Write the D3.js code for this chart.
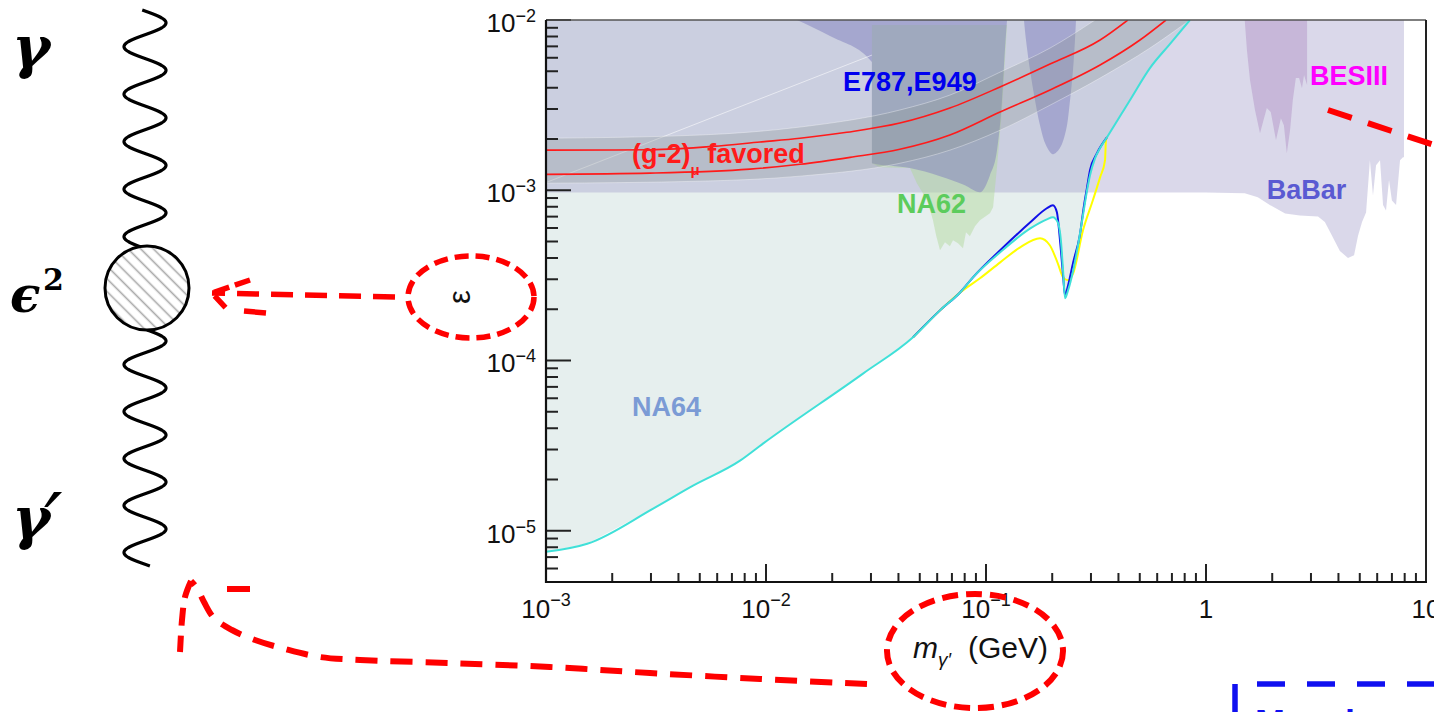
<!DOCTYPE html>
<html>
<head>
<meta charset="utf-8">
<script src="https://cdn.jsdelivr.net/npm/d3@7"></script>
<style>
  html, body { margin: 0; padding: 0; background: #fff; overflow: hidden; }
  svg { display: block; font-family: "Liberation Sans", Arial, sans-serif; }
</style>
</head>
<body>
<svg id="chart" width="1434" height="712"></svg>
<script>
// ---- data (mass in GeV, epsilon) ----
const na64Limit = [[0.001,7.52e-6],[0.00154,8.38e-6],[0.00307,1.35e-5],[0.00466,1.84e-5],[0.00762,2.58e-5],[0.00969,3.25e-5],[0.0276,8.38e-5],[0.0466,1.37e-4],[0.0618,1.97e-4],[0.0762,2.51e-4],[0.0873,3.08e-4],[0.116,4.32e-4],[0.159,5.97e-4],[0.189,6.75e-4],[0.2015,6.94e-4],[0.212,6.48e-4],[0.219,5.08e-4],[0.224,3.38e-4],[0.2287,2.32e-4],[0.236,2.58e-4],[0.249,3.38e-4],[0.262,4.75e-4],[0.276,7.13e-4],[0.288,1.0e-3],[0.297,1.225e-3],[0.313,1.54e-3],[0.330,1.77e-3],[0.355,2.05e-3],[0.451,3.38e-3],[0.556,5.22e-3],[0.685,7.22e-3],[0.845,1.0e-2]];
const na64Blue = [[0.0466,1.37e-4],[0.0618,1.97e-4],[0.0762,2.51e-4],[0.0873,3.08e-4],[0.116,4.44e-4],[0.159,6.48e-4],[0.189,7.84e-4],[0.2015,8.16e-4],[0.210,7.43e-4],[0.217,5.08e-4],[0.224,3.16e-4],[0.2287,2.41e-4],[0.236,2.76e-4],[0.249,3.77e-4],[0.267,5.44e-4],[0.279,8.16e-4],[0.288,1.04e-3],[0.297,1.31e-3],[0.3195,1.65e-3],[0.355,2.05e-3]];
const na64Yellow = [[0.0466,1.37e-4],[0.0618,1.97e-4],[0.0762,2.51e-4],[0.0939,3.04e-4],[0.116,3.77e-4],[0.143,4.62e-4],[0.176,5.22e-4],[0.195,4.75e-4],[0.212,3.72e-4],[0.224,3.08e-4],[0.236,2.96e-4],[0.249,3.25e-4],[0.276,5.82e-4],[0.306,8.73e-4],[0.330,1.19e-3],[0.3475,1.5e-3],[0.351,1.97e-3],[0.355,2.05e-3]];

const babarLower = [[0.001,9.7e-4],[0.1,9.7e-4],[1.0,9.7e-4],[1.5,9.6e-4],[1.72,9.1e-4],[1.95,8.2e-4],[2.29,7.3e-4],[2.67,7.1e-4],[3.23,7.0e-4],[3.47,6.5e-4],[3.74,5.4e-4],[4.06,4.4e-4],[4.42,4.0e-4],[4.71,4.15e-4],[4.91,5.4e-4],[5.12,6.5e-4],[5.34,7.4e-4],[5.56,1.5e-3],[5.74,9.3e-4],[5.93,1.4e-3],[6.18,1.5e-3],[6.38,8.2e-4],[6.58,7.6e-4],[6.79,1.15e-3],[7.0,8.7e-4],[7.31,8.2e-4],[7.62,1.5e-3],[7.86,1.56e-3],[7.94,1.56e-3]];
const e787Main = [[0.01384,1e-2],[0.01954,8.05e-3],[0.0303,5.66e-3],[0.0303,1.44e-3],[0.0451,1.35e-3],[0.0618,1.21e-3],[0.0802,1.07e-3],[0.0939,9.73e-4],[0.1042,1.225e-3],[0.1122,1.72e-3],[0.1182,3.38e-3],[0.1219,6.66e-3],[0.1246,1e-2]];
const e787Lobe = [[0.1488,1e-2],[0.152,7.63e-3],[0.1585,5.08e-3],[0.167,3.38e-3],[0.176,2.41e-3],[0.1874,1.84e-3],[0.2015,1.63e-3],[0.2168,1.77e-3],[0.231,2.25e-3],[0.241,3.38e-3],[0.2486,5.08e-3],[0.2538,7.63e-3],[0.2565,1e-2]];
const na62Region = [[0.0303,9.34e-3],[0.1246,9.34e-3],[0.1219,5.82e-3],[0.1182,2.96e-3],[0.1122,1.365e-3],[0.1077,7.94e-4],[0.1042,7.32e-4],[0.0939,6.66e-4],[0.0891,6.14e-4],[0.0845,5.36e-4],[0.0811,5.66e-4],[0.0786,4.56e-4],[0.0746,4.88e-4],[0.0708,5.08e-4],[0.0685,4.69e-4],[0.0651,4.95e-4],[0.0618,4.44e-4],[0.0593,5.44e-4],[0.0574,6.66e-4],[0.054,8.73e-4],[0.0485,1.10e-3],[0.0451,1.35e-3],[0.033,1.365e-3],[0.0303,1.44e-3]];
const besiiiRegion = [[1.50,1e-2],[1.535,6.66e-3],[1.585,4.44e-3],[1.67,2.96e-3],[1.76,2.16e-3],[1.835,2.65e-3],[1.89,3.04e-3],[1.97,2.88e-3],[2.08,1.97e-3],[2.19,2.65e-3],[2.26,2.41e-3],[2.33,1.65e-3],[2.41,2.25e-3],[2.48,3.38e-3],[2.56,4.56e-3],[2.65,4.56e-3],[2.73,3.98e-3],[2.79,4.75e-3],[2.88,4.15e-3],[2.88,1e-2]];

const g2Upper = [[0.001,1.72e-3],[0.00297,1.73e-3],[0.00574,1.81e-3],[0.00939,1.92e-3],[0.01427,2.02e-3],[0.0233,2.19e-3],[0.0406,2.48e-3],[0.0685,3.04e-3],[0.1158,4.04e-3],[0.1954,5.51e-3],[0.330,7.63e-3],[0.4415,1.0e-2]];
const g2Lower = [[0.001,1.24e-3],[0.00297,1.26e-3],[0.00845,1.33e-3],[0.01427,1.42e-3],[0.0241,1.56e-3],[0.0406,1.74e-3],[0.0685,2.11e-3],[0.1158,2.88e-3],[0.1954,3.88e-3],[0.330,5.44e-3],[0.501,7.63e-3],[0.658,1.0e-2]];
const g2BandHi = [[0.001,2.02e-3],[0.00501,2.11e-3],[0.01427,2.35e-3],[0.0406,2.96e-3],[0.0685,3.62e-3],[0.1158,4.94e-3],[0.1954,6.84e-3],[0.313,1.0e-2]];
const g2BandLo = [[0.001,1.10e-3],[0.00501,1.13e-3],[0.01427,1.21e-3],[0.0406,1.44e-3],[0.0685,1.72e-3],[0.1158,2.25e-3],[0.1954,3.16e-3],[0.330,4.56e-3],[0.556,6.84e-3],[0.845,1.0e-2]];
const faintEdge = [[0.001,1.11e-3],[0.0303,6.22e-3]];

const yTickLabels = [
  {value: 1e-2, base: "10", exp: "\u22122"},
  {value: 1e-3, base: "10", exp: "\u22123"},
  {value: 1e-4, base: "10", exp: "\u22124"},
  {value: 1e-5, base: "10", exp: "\u22125"}
];
const xTickLabels = [
  {value: 1e-3, base: "10", exp: "\u22123"},
  {value: 1e-2, base: "10", exp: "\u22122"},
  {value: 1e-1, base: "10", exp: "\u22121"},
  {value: 1, base: "1", exp: ""},
  {value: 10, base: "10", exp: ""}
];

// ---- setup ----
const svg = d3.select("#chart");
const plot = {left: 546, right: 1426, top: 20, bottom: 582};

const x = d3.scaleLog().domain([1e-3, 10]).range([plot.left, plot.right]);
const y = d3.scaleLog().domain([5e-6, 1e-2]).range([plot.bottom, plot.top]);

const line = d3.line().x(d => x(d[0])).y(d => y(d[1]));
const smooth = d3.line().x(d => x(d[0])).y(d => y(d[1])).curve(d3.curveMonotoneX);
const roundish = d3.line().x(d => x(d[0])).y(d => y(d[1])).curve(d3.curveCatmullRom);

const defs = svg.append("defs");
defs.append("clipPath").attr("id", "plotClip")
  .append("rect")
  .attr("x", plot.left).attr("y", plot.top)
  .attr("width", plot.right - plot.left).attr("height", plot.bottom - plot.top);

const hatch = defs.append("pattern")
  .attr("id", "hatch")
  .attr("patternUnits", "userSpaceOnUse")
  .attr("width", 9).attr("height", 9)
  .attr("patternTransform", "rotate(-45)");
hatch.append("rect").attr("width", 9).attr("height", 9).attr("fill", "#fff");
hatch.append("line")
  .attr("x1", 4.5).attr("y1", 0).attr("x2", 4.5).attr("y2", 9)
  .attr("stroke", "#a8a8a8").attr("stroke-width", 1.6);

// ---- regions ----
const regions = svg.append("g").attr("clip-path", "url(#plotClip)");

// NA64 excluded area (above the limit curve)
regions.append("path")
  .attr("d", line(na64Limit.concat([[1e-3, 1e-2]])) + "Z")
  .attr("fill", "#e6efee");

// BaBar
regions.append("path")
  .attr("d", line([[1e-3, 1e-2]].concat(babarLower, [[7.94, 1e-2]])) + "Z")
  .attr("fill", "rgba(167,162,205,0.42)");

// NA62
regions.append("path")
  .attr("d", line(na62Region) + "Z")
  .attr("fill", "rgba(175,215,150,0.45)");

// E787, E949
regions.append("path")
  .attr("d", smooth(e787Main) + "Z")
  .attr("fill", "rgba(128,128,190,0.5)");
regions.append("path")
  .attr("d", roundish(e787Lobe) + "Z")
  .attr("fill", "rgba(128,128,190,0.5)");

// BESIII
regions.append("path")
  .attr("d", line(besiiiRegion) + "Z")
  .attr("fill", "rgba(180,150,200,0.5)");

// faint edge line
regions.append("path")
  .attr("d", line(faintEdge))
  .attr("fill", "none")
  .attr("stroke", "rgba(255,255,255,0.55)")
  .attr("stroke-width", 1);

// g-2 band
regions.append("path")
  .attr("d", smooth(g2BandHi) + "L" + smooth(g2BandLo.slice().reverse()).slice(1) + "Z")
  .attr("fill", "rgba(140,150,150,0.3)");
[g2BandHi, g2BandLo].forEach(b => {
  regions.append("path")
    .attr("d", smooth(b))
    .attr("fill", "none")
    .attr("stroke", "rgba(255,255,255,0.35)")
    .attr("stroke-width", 1);
});
[g2Upper, g2Lower].forEach(b => {
  regions.append("path")
    .attr("d", smooth(b))
    .attr("fill", "none")
    .attr("stroke", "#ff1a1a")
    .attr("stroke-width", 1.6);
});

// limit curves (cyan drawn last so it shows where they coincide)
regions.append("path")
  .attr("d", smooth(na64Yellow))
  .attr("fill", "none").attr("stroke", "#ffff00").attr("stroke-width", 2);
regions.append("path")
  .attr("d", smooth(na64Blue))
  .attr("fill", "none").attr("stroke", "#1010e8").attr("stroke-width", 2);
regions.append("path")
  .attr("d", smooth(na64Limit))
  .attr("fill", "none").attr("stroke", "#40e0d8").attr("stroke-width", 2);

// ---- region labels ----
function label(txt, m, e, color) {
  return svg.append("text")
    .attr("x", x(m)).attr("y", y(e))
    .attr("font-size", 27).attr("font-weight", "bold")
    .attr("fill", color)
    .text(txt);
}
label("E787,E949", 0.0224, 3.82e-3, "#0000ee");
label("NA62", 0.0394, 7.32e-4, "#5ccc5c");
label("BaBar", 1.89, 8.85e-4, "#5a5ad2");
label("BESIII", 2.97, 4.15e-3, "#ff00ff");
label("NA64", 2.46e-3, 4.75e-5, "#7b9bd5");

const g2Label = svg.append("text")
  .attr("x", x(2.46e-3)).attr("y", y(1.44e-3))
  .attr("font-size", 27).attr("font-weight", "bold").attr("fill", "#ff1a1a");
g2Label.append("tspan").text("(g-2)");
g2Label.append("tspan").attr("font-size", 15).attr("dy", 12).text("\u03bc");
g2Label.append("tspan").attr("dy", -12).text(" favored");

// ---- axes ----
const axes = svg.append("g").attr("stroke", "#222").attr("stroke-width", 2);
const isMajor = v => Math.abs(Math.log10(v) - Math.round(Math.log10(v))) < 1e-6;

y.ticks().forEach(v => {
  axes.append("line")
    .attr("x1", plot.left).attr("x2", plot.left + (isMajor(v) ? 25 : 12))
    .attr("y1", y(v)).attr("y2", y(v));
});
x.ticks().forEach(v => {
  axes.append("line")
    .attr("x1", x(v)).attr("x2", x(v))
    .attr("y1", plot.bottom).attr("y2", plot.bottom - (isMajor(v) ? 18 : 9));
});

// frame
svg.append("line").attr("x1", plot.left).attr("x2", plot.right).attr("y1", plot.top).attr("y2", plot.top)
  .attr("stroke", "#555").attr("stroke-width", 1.5);
svg.append("line").attr("x1", plot.right).attr("x2", plot.right).attr("y1", plot.top).attr("y2", plot.bottom)
  .attr("stroke", "#222").attr("stroke-width", 2);
svg.append("line").attr("x1", plot.left).attr("x2", plot.left).attr("y1", plot.top).attr("y2", plot.bottom + 1)
  .attr("stroke", "#111").attr("stroke-width", 2.2);
svg.append("line").attr("x1", plot.left - 1).attr("x2", plot.right + 1).attr("y1", plot.bottom).attr("y2", plot.bottom)
  .attr("stroke", "#111").attr("stroke-width", 2.2);

// tick labels
yTickLabels.forEach(t => {
  const tx = svg.append("text")
    .attr("x", 536).attr("y", y(t.value) + 12)
    .attr("text-anchor", "end")
    .attr("font-size", 26).attr("fill", "#111");
  tx.append("tspan").text(t.base);
  tx.append("tspan").attr("font-size", 18).attr("dy", -10).text(t.exp);
});
xTickLabels.forEach(t => {
  const tx = svg.append("text")
    .attr("x", x(t.value)).attr("y", 618)
    .attr("text-anchor", "middle")
    .attr("font-size", 26).attr("fill", "#111");
  tx.append("tspan").text(t.base);
  if (t.exp) tx.append("tspan").attr("font-size", 18).attr("dy", -12).text(t.exp);
});

// axis titles
const xTitle = svg.append("text").attr("x", 913).attr("y", 658).attr("font-size", 30).attr("fill", "#111");
xTitle.append("tspan").attr("font-style", "italic").text("m");
xTitle.append("tspan").attr("font-style", "italic").attr("font-size", 19).attr("dy", 8).text("\u03b3\u2032");
xTitle.append("tspan").attr("x", 968).attr("dy", -8).text("(GeV)");

svg.append("text")
  .attr("transform", "translate(462,297) rotate(-90)")
  .attr("text-anchor", "middle").attr("dy", "0.27em")
  .attr("font-size", 31).attr("fill", "#111")
  .text("\u03b5");

// ---- Feynman diagram ----
const feyn = svg.append("g");
const wave = d3.line();
const topWave = d3.range(10, 247.5, 0.5).map(t => [145 + 21 * Math.sin(2 * Math.PI * (t - 11) / 47.5), t]);
const botWave = d3.range(330, 566.5, 0.5).map(t => [145 + 21 * Math.sin(2 * Math.PI * (t - 329.25) / 47), t]);
[topWave, botWave].forEach(w => {
  feyn.append("path").attr("d", wave(w)).attr("fill", "none")
    .attr("stroke", "#000").attr("stroke-width", 3.2);
});
feyn.append("circle").attr("cx", 147).attr("cy", 288).attr("r", 42)
  .attr("fill", "url(#hatch)").attr("stroke", "#000").attr("stroke-width", 3);

function symText(txt, px, py, size) {
  return feyn.append("text").attr("x", px).attr("y", py)
    .attr("font-family", "'DejaVu Serif', serif").attr("font-weight", "bold")
    .attr("font-style", "italic").attr("font-size", size).attr("fill", "#000").text(txt);
}
symText("\u03b3", 12, 67, 58);
symText("\u03f5", 10, 312, 50);
feyn.append("text").attr("x", 43).attr("y", 290)
  .attr("font-family", "'DejaVu Serif', serif").attr("font-weight", "bold")
  .attr("font-size", 30).attr("fill", "#000").text("2");
symText("\u03b3", 12, 538, 58);
feyn.append("text").attr("x", 44).attr("y", 552)
  .attr("font-family", "'DejaVu Serif', serif").attr("font-style", "italic")
  .attr("font-size", 82).attr("fill", "#000").text("\u2032");

// ---- annotations ----
const ann = svg.append("g").attr("fill", "none").attr("stroke", "#ff0000").attr("stroke-linecap", "butt");
const pline = d3.line();
const pcurve = d3.line().curve(d3.curveCatmullRom);

ann.append("ellipse").attr("cx", 471).attr("cy", 297).attr("rx", 63).attr("ry", 41)
  .attr("stroke-width", 5.5).attr("stroke-dasharray", "14 7");
ann.append("path").attr("d", pline([[395, 297], [212, 293]]))
  .attr("stroke-width", 5.5).attr("stroke-dasharray", "22 12");
ann.append("path").attr("d", pline([[250, 280], [212, 293], [226, 308]]))
  .attr("stroke-width", 5.5).attr("stroke-dasharray", "16 6");
ann.append("path").attr("d", pline([[244, 311], [266, 313]])).attr("stroke-width", 5.5);

ann.append("ellipse").attr("cx", 975).attr("cy", 651).attr("rx", 88).attr("ry", 57)
  .attr("stroke-width", 6).attr("stroke-dasharray", "16 8");
ann.append("path")
  .attr("d", pcurve([[867, 684], [760, 679], [650, 673], [550, 667], [450, 663], [360, 660], [320, 657], [285, 649], [255, 640], [232, 630], [214, 618], [204, 602], [197, 588], [191, 581]]))
  .attr("stroke-width", 6).attr("stroke-dasharray", "22 13");
ann.append("path").attr("d", pcurve([[191, 581], [185, 597], [182, 620], [180, 652]]))
  .attr("stroke-width", 6).attr("stroke-dasharray", "18 10");
ann.append("path").attr("d", pline([[227, 589], [250, 589]])).attr("stroke-width", 6);

ann.append("path").attr("d", pline([[1328, 110], [1440, 147]]))
  .attr("stroke-width", 6).attr("stroke-dasharray", "25 17");

// blue box at the bottom right
svg.append("path").attr("d", pline([[1235, 712], [1235, 684], [1440, 684]]))
  .attr("fill", "none").attr("stroke", "#1010f0").attr("stroke-width", 5.5)
  .attr("stroke-dasharray", "28 22");
svg.append("text").attr("x", 1255).attr("y", 736)
  .attr("font-size", 36).attr("font-weight", "bold").attr("fill", "#1010f0")
  .text("Massive");
</script>
</body>
</html>
